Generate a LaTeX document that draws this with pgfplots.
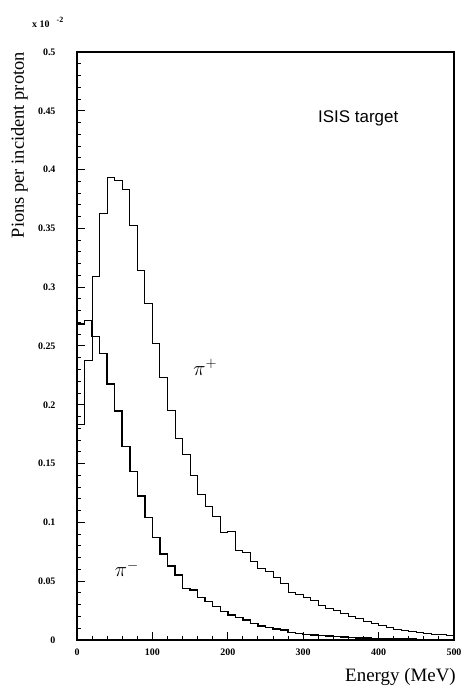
\documentclass[border=0pt]{standalone}
\usepackage{fontspec}
\setmainfont{Liberation Serif}
\newfontfamily\sansf{Liberation Sans}
\usepackage{pgfplots}
\pgfplotsset{compat=1.18}
\begin{document}
\begin{tikzpicture}
\begin{axis}[
  scale only axis, width=377bp, height=588bp,
  at={(0,0)}, anchor=south west,
  xmin=0, xmax=500, ymin=0, ymax=0.5,
  xtick={0,100,200,300,400,500}, minor x tick num=4,
  ytick={0,0.05,0.1,0.15,0.2,0.25,0.3,0.35,0.4,0.45,0.5}, minor y tick num=4,
  xtick pos=bottom, ytick pos=left, tick align=inside,
  major tick length=8bp, minor tick length=4bp,
  axis line style={line width=1.2bp},
  every tick/.style={line width=1bp, black},
  /pgf/number format/assume math mode=true,
  scaled y ticks=false,
  yticklabel style={/pgf/number format/fixed, /pgf/number format/precision=2, font=\bfseries\fontsize{10}{12}\selectfont, xshift=-18bp},
  xticklabel style={font=\bfseries\fontsize{10}{12}\selectfont, yshift=-5bp},
  clip=false,
]
\addplot[const plot mark left, black, line width=1bp] coordinates {
(0,0) (0,0.183) (10,0.238) (20,0.3095) (30,0.363) (40,0.393) (50,0.391) (60,0.383) (70,0.3525) (80,0.314) (90,0.2865)
(100,0.2523) (110,0.2234) (120,0.1955) (130,0.1715) (140,0.158) (150,0.1397) (160,0.124) (170,0.1134) (180,0.105) (190,0.0913)
(200,0.092) (210,0.0765) (220,0.0743) (230,0.0667) (240,0.061) (250,0.0581) (260,0.0533) (270,0.0482) (280,0.0402) (290,0.0383)
(300,0.0363) (310,0.0332) (320,0.029) (330,0.027) (340,0.0255) (350,0.0227) (360,0.0204) (370,0.0184) (380,0.016) (390,0.0142)
(400,0.0122) (410,0.0108) (420,0.0093) (430,0.0085) (440,0.0072) (450,0.0065) (460,0.0057) (470,0.0051) (480,0.0043) (490,0.0036)
(500,0.0036)
};
\addplot[const plot mark left, black, line width=1.5bp] coordinates {
(0,0) (0,0.2687) (10,0.2715) (20,0.258) (30,0.2435) (40,0.2175) (50,0.1947) (60,0.1644) (70,0.1431) (80,0.1224) (90,0.1043)
(100,0.0873) (110,0.0731) (120,0.0629) (130,0.0553) (140,0.044) (150,0.0425) (160,0.0363) (170,0.0326) (180,0.0283) (190,0.0241)
(200,0.0213) (210,0.0193) (220,0.017) (230,0.0142) (240,0.0119) (250,0.0108) (260,0.0094) (270,0.0085) (280,0.0062) (290,0.0057)
(300,0.0048) (310,0.0042) (320,0.0037) (330,0.0032) (340,0.0028) (350,0.0024) (360,0.0021) (370,0.0018) (380,0.0016) (390,0.0014)
(400,0.0012) (410,0.001) (420,0.0009) (430,0.0008) (440,0.0007) (450,0.0006) (460,0.0005) (470,0.0005) (480,0.0004) (490,0.0004)
(500,0.0004)
};
\node[rotate=90, anchor=base east, inner sep=0, font=\fontsize{18.5}{20}\selectfont] at ([xshift=-53bp]rel axis cs:0,1) {Pions per incident proton};
\node[anchor=base west, inner sep=0, font=\bfseries\fontsize{10}{12}\selectfont] at ([xshift=-45bp, yshift=24bp]rel axis cs:0,1) {x 10\hspace{7bp}\raisebox{5bp}{\fontsize{8}{8}\selectfont -2}};
\node[anchor=base east, inner sep=0, font=\fontsize{19}{21}\selectfont] at ([xshift=2bp, yshift=-41bp]rel axis cs:1,0) {Energy (MeV)};
\node[anchor=base west, inner sep=0, font=\sansf\fontsize{17}{19}\selectfont] at ([xshift=241bp, yshift=517bp]rel axis cs:0,0) {ISIS target};
\node[anchor=base west, inner sep=0, font=\fontsize{22}{24}\selectfont] at (axis cs:154,0.2253) {$\pi^{+}$};
\node[anchor=base west, inner sep=0, font=\fontsize{22}{24}\selectfont] at (axis cs:50,0.0536) {$\pi^{-}$};
\end{axis}
\path (-77bp,-46bp) rectangle (380bp,640bp);
\end{tikzpicture}
\end{document}
